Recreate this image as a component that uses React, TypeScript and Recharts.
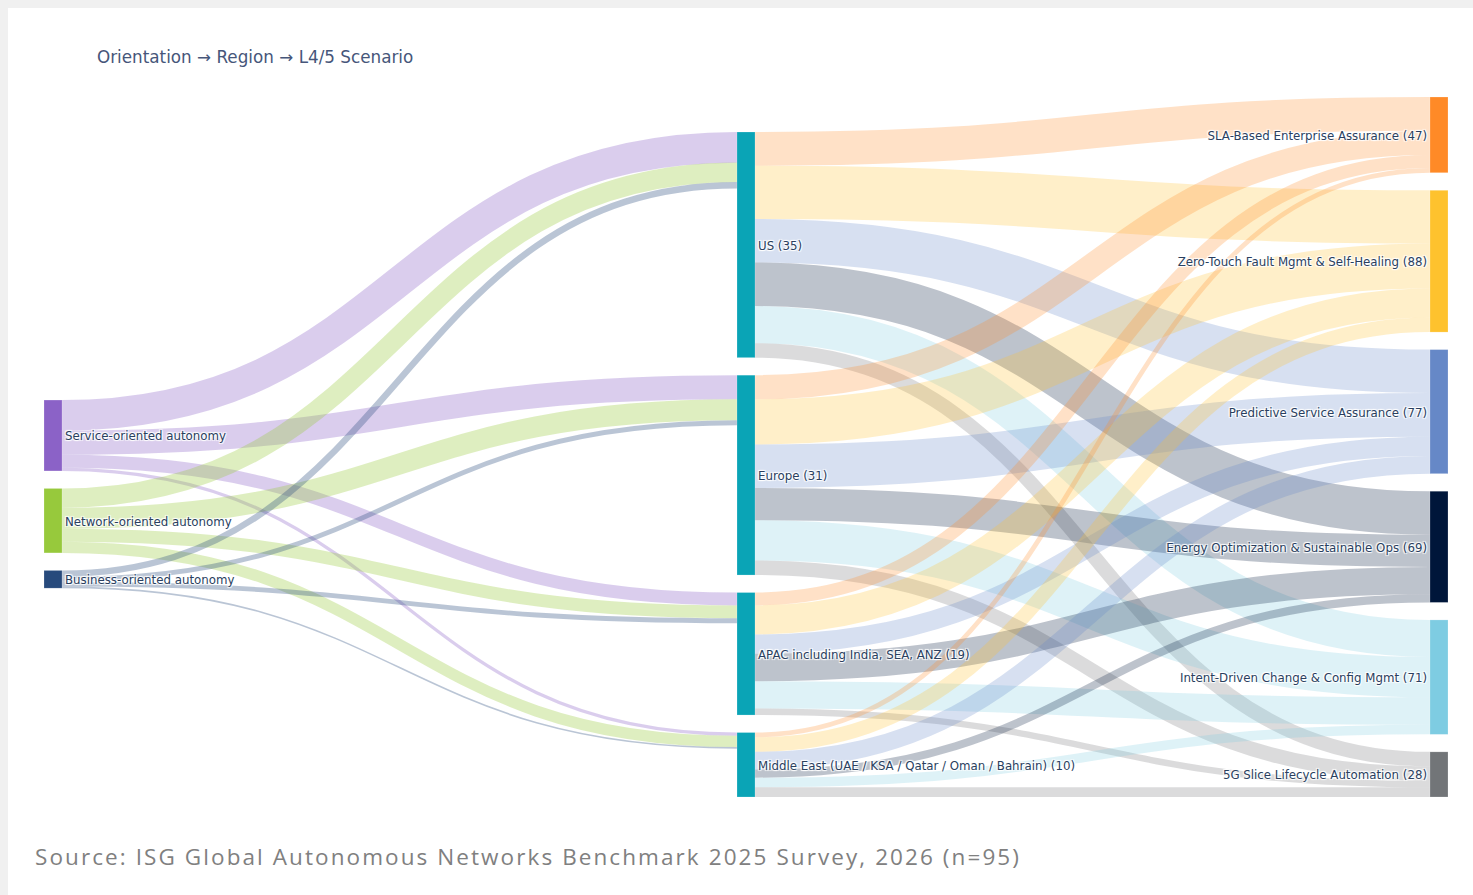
import React from 'react';
import { Sankey } from 'recharts';

// ---- Data ----
const orientations = ['Service-oriented autonomy', 'Network-oriented autonomy', 'Business-oriented autonomy'];
const orientationColors = ['#8b62c7', '#97c93c', '#274a7c'];

const regions = ['US', 'Europe', 'APAC including India, SEA, ANZ', 'Middle East (UAE / KSA / Qatar / Oman / Bahrain)'];
const regionColor = '#0aa4b6';

const scenarios = [
  'SLA-Based Enterprise Assurance',
  'Zero-Touch Fault Mgmt & Self-Healing',
  'Predictive Service Assurance',
  'Energy Optimization & Sustainable Ops',
  'Intent-Driven Change & Config Mgmt',
  '5G Slice Lifecycle Automation',
];
const scenarioColors = ['#ff8a27', '#fec22e', '#6688c7', '#00163a', '#7ecce2', '#727578'];

// respondents per orientation, by region (US, Europe, APAC, Middle East)
const serviceByRegion = [19, 15, 8, 2];
const networkByRegion = [12, 13, 8, 7];
const businessByRegion = [4, 3, 3, 1];

// scenario selections per region (order of scenarios above)
const usScenarios = [21, 33, 27, 27, 23, 9];
const europeScenarios = [15, 28, 27, 20, 25, 9];
const apacScenarios = [8, 18, 12, 17, 17, 4];
const meScenarios = [3, 9, 11, 5, 6, 6];

const title = 'Orientation \u2192 Region \u2192 L4/5 Scenario';
const sourceNote = 'Source: ISG Global Autonomous Networks Benchmark 2025 Survey, 2026 (n=95)';

// ---- Build sankey data ----
const orientationMatrix = [serviceByRegion, networkByRegion, businessByRegion];
const scenarioMatrix = [usScenarios, europeScenarios, apacScenarios, meScenarios];

const regionTotals = regions.map((_, j) => orientationMatrix.reduce((s, row) => s + row[j], 0));
const scenarioTotals = scenarios.map((_, k) => scenarioMatrix.reduce((s, row) => s + row[k], 0));

const nodes = [
  ...orientations.map((name, i) => ({ name, label: name, color: orientationColors[i] })),
  ...regions.map((name, j) => ({ name, label: `${name} (${regionTotals[j]})`, color: regionColor })),
  ...scenarios.map((name, k) => ({ name, label: `${name} (${scenarioTotals[k]})`, color: scenarioColors[k] })),
];

const links: any[] = [];
orientationMatrix.forEach((row, i) => {
  row.forEach((v, j) => {
    if (v > 0) links.push({ source: i, target: orientations.length + j, value: v, color: orientationColors[i], opacity: 0.32 });
  });
});
scenarioMatrix.forEach((row, j) => {
  row.forEach((v, k) => {
    if (v > 0)
      links.push({
        source: orientations.length + j,
        target: orientations.length + regions.length + k,
        value: v,
        color: scenarioColors[k],
        opacity: 0.26,
      });
  });
});

const data = { nodes, links };

const FONT = "'DejaVu Sans', Verdana, sans-serif";
const LABEL_COLOR = '#2a3f5f';

const renderLink = (props: any) => {
  const { sourceX, targetX, sourceY, targetY, sourceControlX, targetControlX, linkWidth, payload } = props;
  return (
    <path
      d={`M${sourceX},${sourceY}C${sourceControlX},${sourceY} ${targetControlX},${targetY} ${targetX},${targetY}`}
      fill="none"
      stroke={payload.color}
      strokeOpacity={payload.opacity}
      strokeWidth={Math.max(linkWidth, 1)}
    />
  );
};

const renderNode = (props: any) => {
  const { x, y, width, height, payload } = props;
  const isRight = payload.depth === 2;
  return (
    <g>
      <rect x={x} y={y} width={width} height={height} fill={payload.color} stroke="#ffffff" strokeOpacity={0.4} strokeWidth={0.5} />
      <text
        x={isRight ? x - 3 : x + width + 3}
        y={y + height / 2 + 1}
        textAnchor={isRight ? 'end' : 'start'}
        dominantBaseline="central"
        fontSize={11.8}
        fontFamily={FONT}
        fill={LABEL_COLOR}
        style={{ textShadow: '1px 1px 1px #fff, -1px -1px 1px #fff, 1px -1px 1px #fff, -1px 1px 1px #fff' }}
      >
        {payload.label}
      </text>
    </g>
  );
};

export default function App() {
  return (
    <div style={{ position: 'fixed', left: 0, top: 0, right: 0, bottom: 0, background: '#f0f0f0', overflow: 'hidden' }}>
      <div style={{ position: 'absolute', left: 8, top: 8, right: 0, bottom: 0, background: '#ffffff' }}>
        <div
          style={{
            position: 'absolute',
            left: 89,
            top: 38,
            fontFamily: FONT,
            fontSize: 16.8,
            lineHeight: '22px',
            color: '#46567a',
            whiteSpace: 'nowrap',
          }}
        >
          {title}
        </div>
        <div style={{ position: 'absolute', left: 0, top: 0 }}>
          <Sankey
            width={1465}
            height={800}
            data={data}
            nodeWidth={18}
            nodePadding={17.5}
            iterations={32}
            sort={false}
            margin={{ top: 89, right: 25, bottom: 11, left: 36 }}
            link={renderLink}
            node={renderNode}
          />
        </div>
        <div
          style={{
            position: 'absolute',
            left: 27,
            top: 834,
            fontFamily: "'Open Sans', sans-serif",
            fontSize: 22.5,
            letterSpacing: '2.08px',
            lineHeight: '30px',
            color: '#808080',
            whiteSpace: 'nowrap',
          }}
        >
          {sourceNote}
        </div>
      </div>
    </div>
  );
}
